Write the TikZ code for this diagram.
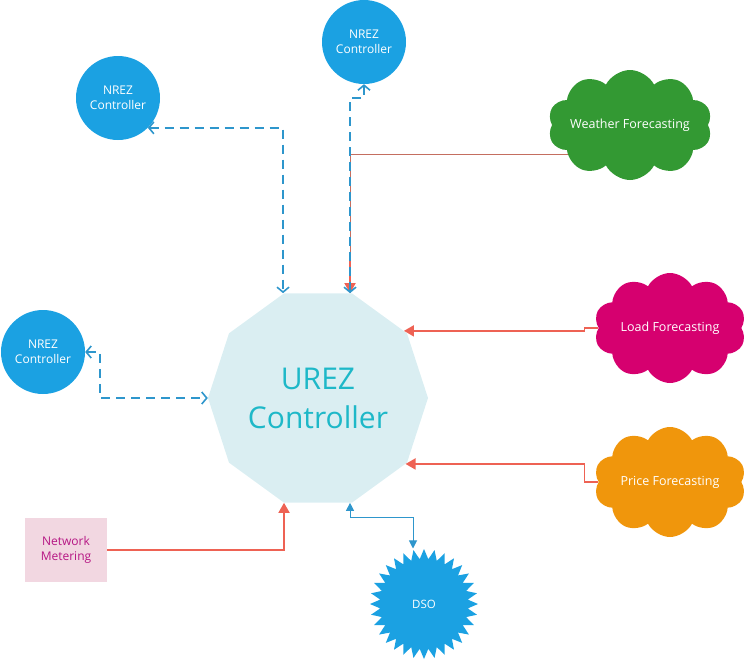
\documentclass[tikz,border=0pt]{standalone}
\usepackage{fontspec}
\setmainfont{Open Sans}
\usetikzlibrary{shapes.geometric,shapes.symbols,arrows.meta,calc}

\definecolor{nrezblue}{RGB}{27,161,226}
\definecolor{linkblue}{RGB}{46,150,204}
\definecolor{linkred}{RGB}{238,98,84}
\definecolor{weatherred}{RGB}{196,110,96}
\definecolor{urezfill}{RGB}{218,238,242}
\definecolor{ureztext}{RGB}{30,184,200}
\definecolor{weathergreen}{RGB}{51,153,51}
\definecolor{loadmagenta}{RGB}{214,0,111}
\definecolor{priceorange}{RGB}{240,150,12}
\definecolor{meterpink}{RGB}{242,215,225}
\definecolor{metertext}{RGB}{182,22,132}

\tikzstyle{urez}=[%
	regular polygon, regular polygon sides=10,
	minimum size=220pt, inner sep=0pt,
	fill=urezfill, text=ureztext, align=center,
	font=\fontsize{30}{39}\selectfont
]
\tikzstyle{nrez}=[%
	circle, fill=nrezblue, text=white,
	minimum size=84pt, inner sep=0pt, align=center,
	font=\fontsize{12}{14.5}\selectfont
]
\tikzstyle{forecast}=[%
	cloud, cloud puffs=10, cloud puff arc=125, cloud ignores aspect,
	minimum width=152pt, minimum height=110pt, inner sep=0pt,
	text=white, font=\fontsize{12.5}{15}\selectfont
]
\tikzstyle{dashlink}=[%
	draw=linkblue, line width=1.6pt, dash pattern=on 9pt off 6pt,
	<->, >={Straight Barb[length=5pt,width=12pt]}
]
\tikzstyle{redlink}=[%
	draw=linkred, line width=1.8pt,
	-{Triangle[length=10pt,width=11pt]}
]

\begin{document}
\begin{tikzpicture}[x=1pt, y=-1pt]
	\useasboundingbox (0,0) rectangle (745,662);

	% Controllers
	\node[urez] (urez) at (318,398) {UREZ\\Controller};
	\foreach \name/\x/\y in {nrezA/118/98, nrezB/364/42, nrezC/43/352} {
		\node[nrez] (\name) at (\x,\y) {NREZ\\Controller};
	}

	% Sources
	\node[forecast, fill=weathergreen] (weather) at (630,125) {Weather Forecasting};
	\node[forecast, fill=loadmagenta] (load) at (670,328) {Load Forecasting};
	\node[forecast, fill=priceorange] (price) at (670,482) {Price Forecasting};
	\node[fill=meterpink, text=metertext, minimum width=82pt, minimum height=64pt,
		align=center, font=\fontsize{12}{15}\selectfont] (meter) at (66,550) {Network\\Metering};
	\node[starburst, starburst points=32, starburst point height=10pt, random starburst=0,
		fill=nrezblue, text=white, minimum width=108pt, minimum height=110pt,
		font=\fontsize{11.5}{13}\selectfont] (dso) at (424,604) {DSO};

	% Forecast and metering links
	\draw[weatherred, line width=0.8pt] (weather.205) -| ($(urez.north)+(32,0)$);
	\draw[redlink] ($(urez.north)+(32,-40)$) -- ($(urez.north)+(32,0)$);
	\draw[redlink] (load.west) -- ++(-14,0) |- (urez.38);
	\draw[redlink] (price.west) -- ++(-14,0) |- (urez.-37);
	\draw[redlink] (meter.east) -| ($(urez.south)+(-34,0)$);

	% NREZ links
	\draw[dashlink] (nrezA.-45) -| ($(urez.north)+(-35,0)$);
	\draw[dashlink] (nrezB.south) -- ++(0,14) -| ($(urez.north)+(32,0)$);
	\draw[dashlink] (nrezC.east) -- ++(15,0) |- (urez.west);

	% DSO link
	\draw[linkblue, line width=1pt, {Triangle[length=8pt,width=8pt]}-{Triangle[length=8pt,width=8pt]}]
		($(urez.south)+(32,0)$) -- ++(0,15) -| ($(dso.north)+(-11,0)$);

\end{tikzpicture}
\end{document}
